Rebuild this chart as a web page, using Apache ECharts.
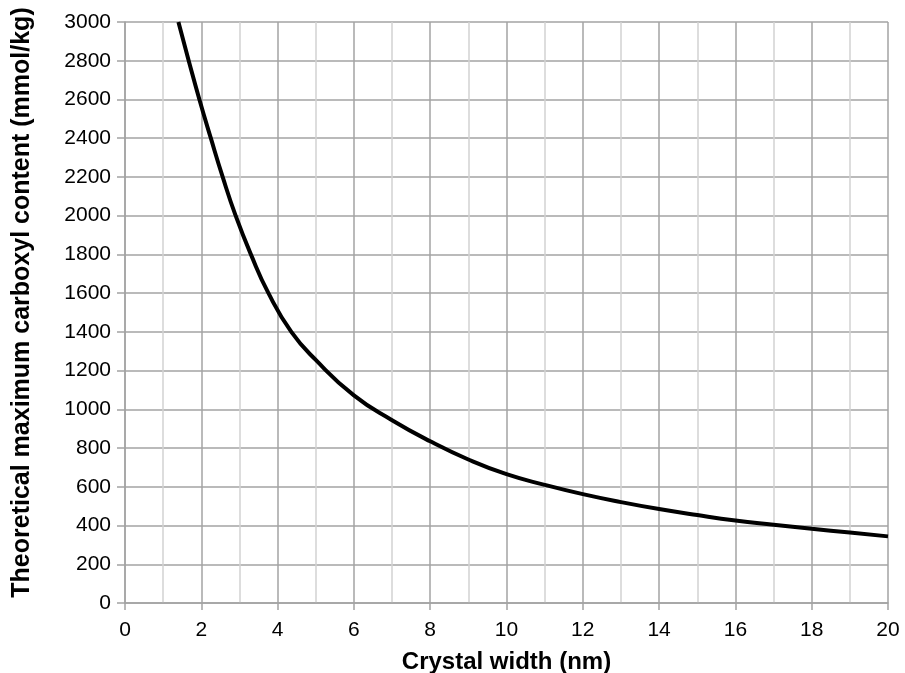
<!DOCTYPE html>
<html>
<head>
<meta charset="utf-8">
<script src="https://cdn.jsdelivr.net/npm/echarts@6/dist/echarts.min.js"></script>
<style>html,body{margin:0;padding:0;background:#fff}#c{width:905px;height:673px}</style>
</head>
<body>
<div id="c"></div>
<script>
var xValues = [1.40, 1.67, 1.95, 2.25, 2.56, 2.90, 3.30, 3.76, 4.36, 5, 6, 7, 8, 9, 10, 11, 12, 13, 14, 15, 16, 17, 18, 19, 20];
var yValues = [3000, 2800, 2600, 2400, 2200, 2000, 1800, 1600, 1400, 1255, 1072, 944, 835, 741, 665, 610, 562, 521, 485, 454, 426, 404, 383, 364, 344];
var xTitle = 'Crystal width (nm)';
var yTitle = 'Theoretical maximum carboxyl content (mmol/kg)';

var data = xValues.map(function (x, i) { return [x, yValues[i]]; });
var chart = echarts.init(document.getElementById('c'), null, {renderer: 'canvas'});
var majorColor = '#a3a3a3';
var minorColor = '#d2d2d2';
var font = 'Liberation Sans';
chart.setOption({
  animation: false,
  backgroundColor: '#fff',
  grid: {left: 125, right: 17, top: 22, bottom: 70, containLabel: false, outerBoundsMode: 'none'},
  xAxis: {
    type: 'value', min: 0, max: 20, interval: 2,
    name: xTitle, nameLocation: 'middle', nameGap: 47,
    nameTextStyle: {fontFamily: font, fontWeight: 'bold', fontSize: 24, color: '#000'},
    axisLine: {show: true, lineStyle: {color: majorColor, width: 1.5}},
    axisTick: {show: true, length: 7, lineStyle: {color: majorColor, width: 1.5}},
    axisLabel: {fontFamily: font, fontSize: 21, color: '#000', margin: 17,
      formatter: function (v) { return String(v); }},
    splitLine: {show: true, lineStyle: {color: majorColor, width: 1.5}},
    minorTick: {show: false, splitNumber: 2},
    minorSplitLine: {show: true, lineStyle: {color: minorColor, width: 1.5}}
  },
  yAxis: {
    type: 'value', min: 0, max: 3000, interval: 200,
    name: yTitle, nameLocation: 'middle', nameGap: 90,
    nameTextStyle: {fontFamily: font, fontWeight: 'bold', fontSize: 25, color: '#000', padding: [0, 0, 0, 20]},
    axisLine: {show: true, lineStyle: {color: majorColor, width: 1.5}},
    axisTick: {show: true, length: 8, lineStyle: {color: majorColor, width: 1.5}},
    axisLabel: {fontFamily: font, fontSize: 21, color: '#000', margin: 14,
      formatter: function (v) { return String(v); }},
    splitLine: {show: true, lineStyle: {color: majorColor, width: 1.5}}
  },
  series: [{
    type: 'line', data: data, smooth: 0.5, showSymbol: false, symbol: 'none',
    lineStyle: {color: '#000', width: 4}, clip: true
  }]
});
</script>
</body>
</html>
